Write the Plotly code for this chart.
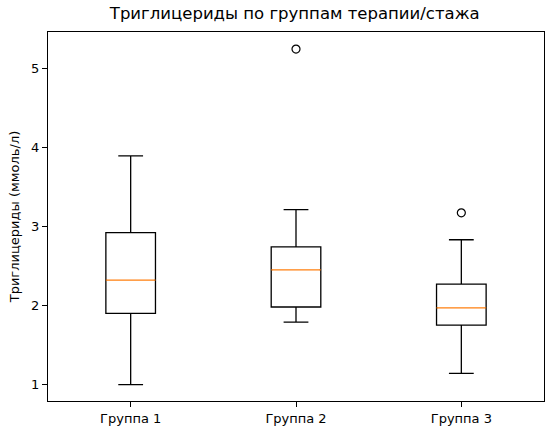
import plotly.graph_objects as go

categories = ["Группа 1", "Группа 2", "Группа 3"]
q1 = [1.90, 1.98, 1.75]
median = [2.32, 2.45, 1.97]
q3 = [2.92, 2.74, 2.27]
lower_whisker = [1.00, 1.79, 1.14]
upper_whisker = [3.89, 3.21, 2.83]
outlier_group = [2, 3]
outlier_values = [5.24, 3.17]

positions = list(range(1, len(categories) + 1))
box_width = 0.3

fig = go.Figure()
for i, pos in enumerate(positions):
    fig.add_trace(go.Box(
        x=[pos], q1=[q1[i]], median=[median[i]], q3=[q3[i]],
        lowerfence=[lower_whisker[i]], upperfence=[upper_whisker[i]],
        width=box_width, whiskerwidth=0.5,
        line=dict(color="black", width=1.3),
        fillcolor="rgba(0,0,0,0)", boxpoints=False, showlegend=False,
        hoverinfo="skip",
    ))
    # white underlay to hide the box's own black median
    fig.add_trace(go.Scatter(
        x=[pos - box_width / 2 + 0.006, pos + box_width / 2 - 0.006], y=[median[i], median[i]],
        mode="lines", line=dict(color="white", width=2.2), showlegend=False,
        hoverinfo="skip",
    ))
    fig.add_trace(go.Scatter(
        x=[pos - box_width / 2, pos + box_width / 2], y=[median[i], median[i]],
        mode="lines", line=dict(color="#ff7f0e", width=1.3), showlegend=False,
        hoverinfo="skip",
    ))

fig.add_trace(go.Scatter(
    x=outlier_group, y=outlier_values, mode="markers",
    marker=dict(symbol="circle-open", size=8, color="black", line=dict(width=1.2)),
    showlegend=False,
))

fig.update_layout(
    width=554, height=435,
    margin=dict(l=48, r=10, t=32, b=34),
    paper_bgcolor="white", plot_bgcolor="white",
    font=dict(family="DejaVu Sans", size=13, color="black"),
    title=dict(text="Триглицериды по группам терапии/стажа", x=0.532, xanchor="center",
               y=1 - 13 / 435, yanchor="middle", font=dict(size=16.5)),
)
fig.update_xaxes(
    range=[0.5, 3.5], tickvals=positions, ticktext=categories,
    showline=True, mirror=True, linecolor="black", linewidth=1,
    ticks="outside", ticklen=5, tickcolor="black", showgrid=False, zeroline=False,
)
fig.update_yaxes(
    range=[0.792, 5.456], tickvals=[1, 2, 3, 4, 5],
    showline=True, mirror=True, linecolor="black", linewidth=1,
    ticks="outside", ticklen=5, tickcolor="black", showgrid=False, zeroline=False,
    title=dict(text="Триглицериды (ммоль/л)", standoff=8, font=dict(size=13)),
)

fig.write_html("out.html")
